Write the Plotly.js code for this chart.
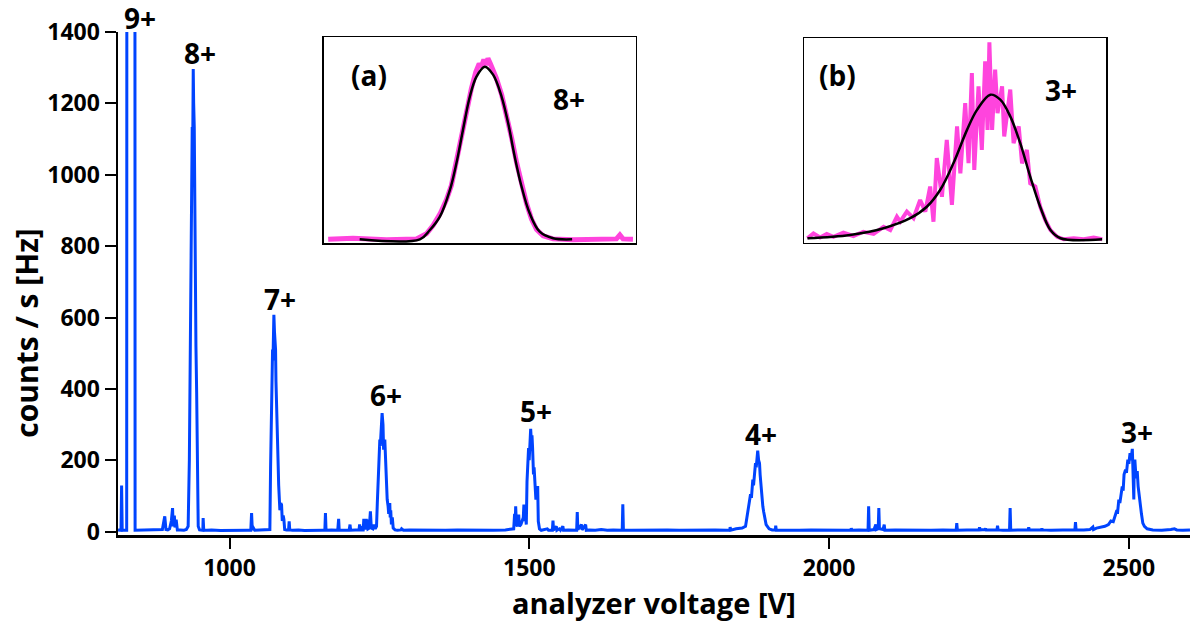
<!DOCTYPE html>
<html>
<head>
<meta charset="utf-8">
<script src="https://cdn.plot.ly/plotly-3.0.1.min.js"></script>
<style>html,body{margin:0;padding:0;background:#fff;}#chart{width:1193px;height:622px;}</style>
</head>
<body>
<div id="chart"></div>
<script>
// Main spectrum: [analyzer voltage (V), counts / s (Hz)]
const spectrum = [
[814,5],[818,4],[819,4],[820,129],[821,4],[824,4],[827,4],[828.5,4],[829,3000],[842,3000],[842.5,4],[846,4],[860,5],[875,4],[884,4],[888,6],[890,25],[892,43],[894,6],[897,5],[900,8],[903,30],[905,66],[906,15],[908,45],[909,12],[911,34],[913,5],[918,5],[924,4],[928,6],
[931,15],[933,200],[934,389],[935,620],[935.7,762],[936.5,700],[937.8,1134],[938.5,1050],[939.5,1296],[940.2,1200],[941.2,1134],[942,900],[942.8,762],[943.5,700],[944,520],[945.2,389],[946.5,150],[947.8,15],[950,5],[954,4],[955.5,4],[956,38],[957,4],[962,4],[970,5],[985,3],[1000,4],[1010,4],[1020,5],[1030,4],[1035.5,4],[1036.8,52],[1038,5],[1040,10],[1042,4],[1050,4],[1060,5],[1065,6],
[1067.3,6],[1068.5,183],[1069.5,300],[1070.2,370],[1071.8,510],[1072.5,480],[1073.3,580],[1074,608],[1075,560],[1076.8,510],[1077.5,420],[1078.5,370],[1080,250],[1081.2,183],[1082,130],[1082.8,99],[1084,60],[1085.5,80],[1086.8,75],[1088,30],[1089.5,45],[1090.7,34],[1092,6],[1095,5],[1098.5,5],[1099.5,29],[1100.5,5],[1105,4],[1115,5],[1125,3],[1135,4],[1145,5],[1155,4],[1159,4],[1160,52],[1161,4],[1170,5],[1180.5,4],[1182,36],[1183,4],[1190,4],[1199.5,4],[1201,20],[1202,4],[1210,5],[1216,5],[1217,20],[1218,5],[1219,15],[1220,5],[1223,5],[1224,36],[1225,6],[1226,34],[1227,6],[1228,36],[1229,8],[1230,34],[1231,8],[1233,10],[1235,57],[1236.5,10],[1239,8],[1241,20],[1243,8],
[1245.2,15],[1246.5,80],[1247.8,136],[1249,200],[1250.7,258],[1251.5,240],[1253,310],[1254.5,332],[1256,300],[1257,230],[1259,258],[1260.5,180],[1261.8,136],[1263,90],[1264.5,71],[1265.5,50],[1267.3,80],[1268,40],[1268.9,60],[1270,20],[1271.5,40],[1273,10],[1276,5],[1280,4],[1286,5],[1287,8],[1290,4],[1300,5],[1320,4],[1340,5],[1360,4],[1380,5],[1400,4],[1420,5],[1440,4],[1460,5],[1470,6],[1474,8],[1475.5,50],[1476.5,20],[1477.3,71],[1478.5,20],[1480,15],[1482.3,48],[1483.5,15],[1486,20],[1488,30],[1490,40],[1491,76],[1492.5,30],[1494,40],
[1495,20],[1496.2,141],[1497.5,190],[1498.8,234],[1499.8,200],[1501,260],[1502.3,288],[1503.5,250],[1504.5,270],[1505.5,234],[1507,160],[1508,180],[1509.5,132],[1511,90],[1512.5,110],[1514,128],[1515,29],[1517,8],[1520,4],[1525,5],[1530,8],[1532,4],[1538.5,4],[1539.5,31],[1540.5,4],[1545,15],[1546,4],[1550,8],[1552,4],[1556,15],[1557,4],[1565,5],[1570,4],[1579,4],[1580,55],[1581,6],[1587,20],[1588,5],[1594,20],[1595,4],[1600,5],[1610,4],[1620,6],[1630,4],[1640,5],[1655,4],[1656,77],[1657,4],[1670,4],[1690,5],[1710,4],[1730,5],[1750,4],[1770,5],[1790,4],[1810,5],[1830,4],[1834.5,4],[1835,13],[1836,4],[1845,8],[1850,8],[1855,10],
[1860.7,15],[1863,40],[1865,60],[1867,80],[1869,105],[1870.5,95],[1872.8,146],[1874,130],[1875.5,175],[1877.3,192],[1878.5,180],[1881,227],[1882.5,200],[1884,192],[1885,160],[1886.8,118],[1888,95],[1889.5,71],[1891,55],[1893,35],[1895,20],[1900,8],[1905,5],[1910.5,5],[1911,17],[1912,4],[1930,5],[1950,4],[1970,5],[1990,4],[2010,5],[2030,4],[2036.5,4],[2037,10],[2038,4],[2050,5],[2065,4],[2066,71],[2067,4],[2075,6],[2078,20],[2079,6],[2082,8],[2083,66],[2084,8],[2090,6],[2092,20],[2093,4],[2110,5],[2130,4],[2150,5],[2170,4],[2190,5],[2212,4],[2213,24],[2214,4],[2230,5],[2250,5],[2251,12],[2252,5],[2260,6],[2261,9],[2262,5],[2270,5],[2280,5],[2281,17],[2282,5],[2290,4],[2301,4],[2302,66],[2303,4],[2315,5],[2332,5],[2333,12],[2334,5],[2354,5],[2355,9],[2356,5],[2370,4],[2390,5],[2410,5],[2411,27],[2412,5],[2425,5],[2435,6],[2440,13],[2441,6],[2446,10],[2455,12],[2460,15],
[2466,20],[2470,30],[2474,28],[2477.8,48],[2480,60],[2481,50],[2483.3,90],[2485,80],[2487,110],[2489,127],[2490.5,115],[2492,160],[2494.5,174],[2496,165],[2498.3,202],[2500,190],[2502,220],[2503.5,200],[2505.8,232],[2507,180],[2508.3,90],[2509,190],[2510,202],[2512,150],[2514,170],[2515.5,127],[2517,110],[2519.5,71],[2521,50],[2523.3,24],[2526,15],[2530.5,8],[2540,5],[2555,4],[2570,6],[2576,8],[2580,5],[2590,4],[2602,5]
];

// Inset (a): 8+ peak, data (magenta) and fit (black), in inset units
const insetA_data = [[1.4,1.8],[9.4,2.3],[20.1,1.6],[29.7,2.0],[32.9,4.5],[35.0,8.5],[37.2,14],[39.3,21],[40.9,28],[42.5,40],[44.1,52],[45.7,64],[47.3,75],[48.7,83],[49.8,87],[50.5,85.5],[51.3,89],[52.1,86.5],[52.6,89.7],[53.4,87],[54.3,84],[55.3,80],[57.0,72],[58.6,62],[60.2,51],[61.8,39],[63.4,28],[65.0,19],[66.6,11.5],[68.2,6.5],[70.3,3.5],[73.5,2.0],[79.9,1.6],[89.5,1.8],[93.8,2.0],[94.9,3.9],[95.9,2.0],[99.1,1.8]];
const insetA_fit = [[11.5,1.8],[30.8,1.8],[34.0,6.3],[37.2,12.8],[40.4,25.7],[42.5,38.7],[44.6,54.9],[46.8,71.0],[48.9,80.7],[51.6,85.6],[54.3,81.6],[57.0,71.0],[59.1,58.1],[61.2,41.9],[63.4,27.3],[66.0,14.4],[69.2,5.5],[73.5,2.3],[79.6,1.8]];

// Inset (b): 3+ peak
const insetB_data = [[1.1,2.2],[3.1,4.6],[5.3,2.6],[7.5,4.3],[9.7,2.9],[13.0,4.9],[16.3,3.3],[19.6,5.4],[23.0,4.3],[26.3,7.8],[28.5,6.2],[30.7,12.7],[31.8,10.3],[34.0,15.2],[36.2,12.0],[38.4,20.9],[40.1,15.2],[41.7,27.5],[42.8,10.3],[43.9,41.4],[45.6,22.5],[47.2,50.3],[48.9,18.5],[50.6,56.9],[51.7,34.0],[53.3,68.3],[54.4,38.9],[55.5,83.0],[56.3,35.6],[57.7,76.5],[58.8,45.4],[59.9,88.7],[60.7,55.2],[61.3,98.0],[62.2,55.2],[63.2,84.7],[64.0,63.4],[65.5,76.5],[66.2,52.0],[68.2,74.9],[69.3,48.7],[71.0,56.9],[72.1,38.9],[73.7,45.4],[74.8,29.1],[76.5,27.5],[78.1,17.6],[79.8,11.1],[81.5,6.2],[83.7,2.9],[85.9,1.7],[89.2,2.2],[92.5,1.7],[95.8,2.6],[98.6,1.7]];
const insetB_fit = [[1.1,2.2],[15.2,3.8],[26.3,7.1],[35.1,12.0],[40.6,17.6],[45.0,25.8],[49.4,38.9],[53.9,55.2],[57.2,65.0],[61.6,72.4],[64.9,70.0],[68.2,61.8],[71.5,48.7],[74.8,32.4],[78.1,17.6],[81.5,6.2],[84.8,2.2],[98.6,1.7]];

const peakLabels = ['9+','8+','7+','6+','5+','4+','3+'];
const yTicks = [0,200,400,600,800,1000,1200,1400];
const xTicks = [1000,1500,2000,2500];

const FONT = 'Open Sans, Lato, sans-serif';
const BLUE = '#0044ff';
const MAGENTA = '#ff44dd';
const xs = a => a.map(p => p[0]);
const ys = a => a.map(p => p[1]);

const traces = [
  {x: xs(spectrum), y: ys(spectrum), type: 'scatter', mode: 'lines', line: {color: BLUE, width: 3}, xaxis: 'x', yaxis: 'y', hoverinfo: 'skip'},
  {x: xs(insetA_data), y: ys(insetA_data), type: 'scatter', mode: 'lines', line: {color: MAGENTA, width: 5}, xaxis: 'x2', yaxis: 'y2'},
  {x: xs(insetA_fit), y: ys(insetA_fit), type: 'scatter', mode: 'lines', line: {color: '#000', width: 2.5, shape: 'spline'}, xaxis: 'x2', yaxis: 'y2'},
  {x: xs(insetB_data), y: ys(insetB_data), type: 'scatter', mode: 'lines', line: {color: MAGENTA, width: 4}, xaxis: 'x3', yaxis: 'y3'},
  {x: xs(insetB_fit), y: ys(insetB_fit), type: 'scatter', mode: 'lines', line: {color: '#000', width: 2.5, shape: 'spline'}, xaxis: 'x3', yaxis: 'y3'}
];

// label anchor positions (paper fractions of the main plot area)
const labelPos = [[0.0205,1.028],[0.0765,0.959],[0.151,0.470],[0.2498,0.278],[0.390,0.246],[0.600,0.2003],[0.9508,0.2042]];
const LABEL_FONT = {family: FONT, size: 28, color: '#000', weight: 'bold'};
const annotations = peakLabels.map((t, i) => ({
  text: t, x: labelPos[i][0], y: labelPos[i][1], xref: 'paper', yref: 'paper', showarrow: false,
  font: LABEL_FONT, xanchor: 'center', yanchor: 'middle'
}));
const insetText = [['(a)',0.2346,0.9139],['8+',0.4207,0.8662],['(b)',0.6712,0.9150],['3+',0.8797,0.8841]];
insetText.forEach(t => annotations.push({
  text: t[0], x: t[1], y: t[2], xref: 'paper', yref: 'paper', showarrow: false,
  font: LABEL_FONT, xanchor: 'center', yanchor: 'middle'
}));
// y-axis title (placed as rotated text to match its offset position)
annotations.push({
  text: 'counts / s [Hz]', textangle: -90, x: -0.0849, y: 0.402, xref: 'paper', yref: 'paper', showarrow: false,
  font: {family: FONT, size: 30, color: '#000', weight: 'bold'}, xanchor: 'center', yanchor: 'middle'
});

const insetAxis = (domain, anchor, range) => ({
  domain: domain, anchor: anchor, range: range, showline: true, mirror: true, linecolor: '#000', linewidth: 1.5,
  showticklabels: false, ticks: '', showgrid: false, zeroline: false, fixedrange: true
});

const tickFont = {family: FONT, size: 23, color: '#000', weight: 'bold'};
const layout = {
  width: 1193, height: 622,
  margin: {l: 118, r: 3, t: 32, b: 87, pad: 0},
  paper_bgcolor: '#fff', plot_bgcolor: 'rgba(0,0,0,0)',
  showlegend: false,
  xaxis: {
    range: [814, 2602], tickvals: xTicks, ticktext: xTicks.map(String), ticks: 'outside', ticklen: 11, tickwidth: 2, tickcolor: '#000',
    showline: true, linecolor: '#000', linewidth: 2.5, showgrid: false, zeroline: false, tickfont: tickFont,
    title: {text: 'analyzer voltage [V]', font: {family: FONT, size: 29, color: '#000', weight: 'bold'}, standoff: 4},
    anchor: 'y'
  },
  yaxis: {
    range: [-9.3, 1400], tickvals: yTicks, ticktext: yTicks.map(String), ticks: 'outside', ticklen: 11, tickwidth: 2, tickcolor: '#000',
    showline: true, linecolor: '#000', linewidth: 2.5, showgrid: false, zeroline: false, tickfont: tickFont,
    anchor: 'x'
  },
  xaxis2: insetAxis([0.192, 0.483], 'y2', [0, 100]),
  yaxis2: insetAxis([0.5805, 0.990], 'x2', [0, 100]),
  xaxis3: insetAxis([0.640, 0.922], 'y3', [0, 100]),
  yaxis3: insetAxis([0.581, 0.9875], 'x3', [0, 100]),
  annotations: annotations
};

Plotly.newPlot('chart', traces, layout, {displayModeBar: false, staticPlot: true});
</script>
</body>
</html>
